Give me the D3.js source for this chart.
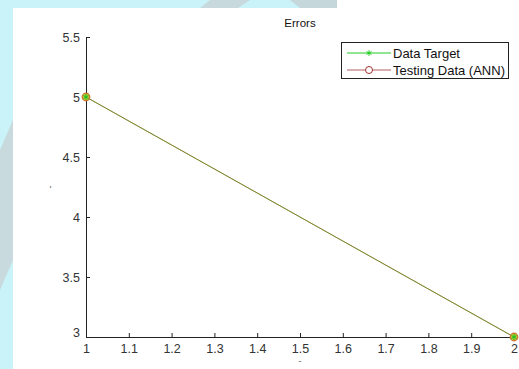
<!DOCTYPE html>
<html>
<head>
<meta charset="utf-8">
<script src="https://cdn.jsdelivr.net/npm/d3@7"></script>
<style>
  html, body { margin: 0; padding: 0; background: #ffffff; }
  svg { display: block; }
  text { font-family: "Liberation Sans", Arial, sans-serif; }
</style>
</head>
<body>
<svg id="chart" width="519" height="369"></svg>
<script>
// Series values
const xValues = [1, 2];
const dataTarget = [5, 3];
const testingData = [5, 3];
const seriesNames = ["Data Target", "Testing Data (ANN)"];
const xTicks = [1, 1.1, 1.2, 1.3, 1.4, 1.5, 1.6, 1.7, 1.8, 1.9, 2];
const yTicks = [3, 3.5, 4, 4.5, 5, 5.5];
const titleText = "Errors";

const W = 519, H = 369;
const margin = { left: 86, right: 5, top: 37, bottom: 32 };

const svg = d3.select("#chart");

// Page backdrop strips around the figure
svg.append("rect").attr("x", 0).attr("y", 0).attr("width", 337).attr("height", 8).attr("fill", "#c9f3f9");
svg.append("rect").attr("x", 0).attr("y", 0).attr("width", 13).attr("height", H).attr("fill", "#c9f3f9");
svg.append("path").attr("d", "M0,150 L13,120 L13,260 L0,290 Z").attr("fill", "#c8cfd2").attr("opacity", 0.7);
svg.append("path").attr("d", "M210,0 L250,0 L238,8 L200,8 Z").attr("fill", "#c8d2d6").attr("opacity", 0.8);
svg.append("path").attr("d", "M290,0 L337,0 L337,8 L300,8 Z").attr("fill", "#c4cbce").attr("opacity", 0.7);

const x = d3.scaleLinear().domain([1, 2]).range([margin.left, W - margin.right]);
const y = d3.scaleLinear().domain([3, 5.5]).range([H - margin.bottom, margin.top]);

// Axes (ticks pointing inward)
const xAxis = d3.axisBottom(x).tickValues(xTicks).tickSize(-4).tickPadding(5).tickFormat(d3.format("~g"));
const yAxis = d3.axisLeft(y).tickValues(yTicks).tickSize(-4).tickPadding(5).tickFormat(d3.format("~g"));

const gx = svg.append("g").attr("transform", `translate(0,${y(3)})`).call(xAxis);
const gy = svg.append("g").attr("transform", `translate(${x(1)},0)`).call(yAxis);

[gx, gy].forEach(g => {
  g.select(".domain").attr("stroke", "#222").attr("stroke-width", 1);
  g.selectAll(".tick line").attr("stroke", "#222");
  g.selectAll(".tick text").attr("fill", "#333").style("font-size", "12.5px").style("font-family", "Liberation Sans, Arial, sans-serif");
});
gx.selectAll(".tick text").attr("dy", "0.85em");
gy.selectAll(".tick text").attr("dx", "-1");
// The "3" sits above the "1" at the corner
gy.selectAll(".tick").filter(d => d === 3).select("text").attr("dy", "-0.05em");

// Title
svg.append("text").attr("x", (x(1) + x(2)) / 2).attr("y", 27).attr("text-anchor", "middle")
  .attr("fill", "#111").style("font-size", "11.5px").text(titleText);

// Axis labels
svg.append("text").attr("x", x(1.5)).attr("y", 364).attr("text-anchor", "middle")
  .attr("fill", "#555").style("font-size", "9px").text("-");
svg.append("text").attr("transform", `translate(53,${y(4.25)}) rotate(-90)`).attr("text-anchor", "middle")
  .attr("fill", "#555").style("font-size", "9px").text("-");

const line = d3.line().x(d => x(d[0])).y(d => y(d[1]));
const targetPts = xValues.map((v, i) => [v, dataTarget[i]]);
const testPts = xValues.map((v, i) => [v, testingData[i]]);

// Lines
svg.append("path").datum(targetPts).attr("d", line).attr("fill", "none").attr("stroke", "#40d040").attr("stroke-width", 1);
svg.append("path").datum(testPts).attr("d", line).attr("fill", "none").attr("stroke", "#b8552e").attr("stroke-width", 1).attr("opacity", 0.7);

// Markers
const star = d3.symbol().type(d3.symbolAsterisk || d3.symbolCross).size(22);
svg.selectAll(".circ").data(testPts).join("circle")
  .attr("cx", d => x(d[0])).attr("cy", d => y(d[1])).attr("r", 3.8)
  .attr("fill", "#b7c43a").attr("stroke", "#d0702a").attr("stroke-width", 1.2);
svg.selectAll(".star").data(targetPts).join("path")
  .attr("transform", d => `translate(${x(d[0])},${y(d[1])})`)
  .attr("d", star).attr("fill", "#20c020").attr("stroke", "#20c020").attr("stroke-width", 1);

// Legend
const lg = svg.append("g");
lg.append("rect").attr("x", 341.5).attr("y", 42.5).attr("width", 167).attr("height", 36)
  .attr("fill", "#fff").attr("stroke", "#222").attr("stroke-width", 1);
const legendItems = [
  { name: seriesNames[0], color: "#22cc22", marker: "star", yy: 53 },
  { name: seriesNames[1], color: "#b06060", marker: "circle", yy: 70 }
];
legendItems.forEach(it => {
  lg.append("line").attr("x1", 347).attr("x2", 391).attr("y1", it.yy).attr("y2", it.yy)
    .attr("stroke", it.color).attr("stroke-width", 1);
  if (it.marker === "star") {
    lg.append("path").attr("transform", `translate(369,${it.yy})`).attr("d", star)
      .attr("fill", it.color).attr("stroke", it.color);
  } else {
    lg.append("circle").attr("cx", 369).attr("cy", it.yy).attr("r", 3.5)
      .attr("fill", "#fff").attr("stroke", "#a03030").attr("stroke-width", 1);
  }
  lg.append("text").attr("x", 393).attr("y", it.yy + 4.5).attr("fill", "#111")
    .style("font-size", "13px").text(it.name);
});
</script>
</body>
</html>
